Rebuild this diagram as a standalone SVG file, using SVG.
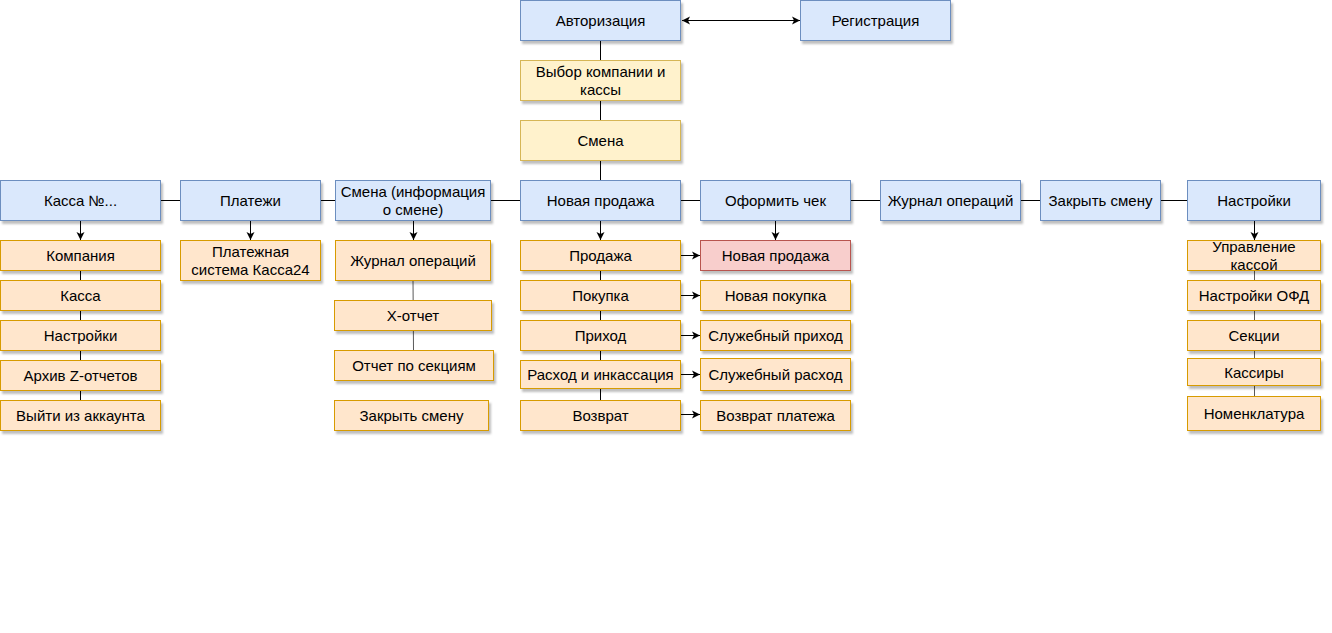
<svg xmlns="http://www.w3.org/2000/svg" width="1332" height="633" viewBox="0 0 1332 633">
<defs>
<filter id="sh" x="-10%" y="-20%" width="130%" height="160%">
<feDropShadow dx="2" dy="3" stdDeviation="1.2" flood-color="#000" flood-opacity="0.25"/>
</filter>
<marker id="ah" markerWidth="9" markerHeight="9" refX="8" refY="4.5" orient="auto" markerUnits="userSpaceOnUse">
<path d="M0,0.5 L8,4.5 L0,8.5 L2,4.5 Z" fill="#000"/>
</marker>
<marker id="ahs" markerWidth="9" markerHeight="9" refX="8" refY="4.5" orient="auto-start-reverse" markerUnits="userSpaceOnUse">
<path d="M0,0.5 L8,4.5 L0,8.5 L2,4.5 Z" fill="#000"/>
</marker>
</defs>
<style>
.b{fill:#dae8fc;stroke:#6c8ebf;stroke-width:1}
.y{fill:#fff2cc;stroke:#d6b656;stroke-width:1}
.o{fill:#ffe6cc;stroke:#d79b00;stroke-width:1}
.r{fill:#f8cecc;stroke:#b85450;stroke-width:1}
rect{filter:url(#sh)}
text{font-family:"Liberation Sans",Arial,sans-serif;font-size:15px;fill:#000;text-anchor:middle;dominant-baseline:central}
.l{stroke:#000;stroke-width:1;fill:none}
.g{stroke:#5a5a5a;stroke-width:1;fill:none}
.a{stroke:#000;stroke-width:1;fill:none;marker-end:url(#ah)}
</style>
<rect width="1332" height="633" fill="#fff" style="filter:none"/>
<g id="connectors">
<line class="l" x1="600.5" y1="40" x2="600.5" y2="180"/>
<line class="l" x1="160" y1="200.5" x2="1187" y2="200.5"/>
<line x1="682" y1="20.5" x2="800" y2="20.5" stroke="#000" stroke-width="1" marker-start="url(#ahs)" marker-end="url(#ahs)"/>
<line class="a" x1="80.5" y1="220" x2="80.5" y2="240"/>
<line class="l" x1="80.5" y1="270" x2="80.5" y2="400"/>
<line class="a" x1="250.5" y1="220" x2="250.5" y2="240"/>
<line class="a" x1="413.5" y1="220" x2="413.5" y2="240"/>
<line class="g" x1="413" y1="280" x2="413.5" y2="350"/>
<line class="a" x1="600.5" y1="220" x2="600.5" y2="240"/>
<line class="l" x1="600.5" y1="270" x2="600.5" y2="400"/>
<line class="a" x1="775.5" y1="220" x2="775.5" y2="240"/>
<line class="a" x1="1254.5" y1="220" x2="1254.5" y2="240"/>
<line class="g" x1="1254.5" y1="270" x2="1254.5" y2="396"/>
<line class="a" x1="681" y1="255.5" x2="700" y2="255.5"/>
<line class="a" x1="681" y1="295.5" x2="700" y2="295.5"/>
<line class="a" x1="681" y1="335.5" x2="700" y2="335.5"/>
<line class="a" x1="681" y1="374.5" x2="700" y2="374.5"/>
<line class="a" x1="681" y1="414.5" x2="700" y2="414.5"/>
</g>
<g id="n-avtorizaciya"><rect class="b" x="520.5" y="0.5" width="160" height="40"/><text x="600.5" y="20.5">Авторизация</text></g>
<g id="n-registraciya"><rect class="b" x="800.5" y="0.5" width="150" height="40"/><text x="875.5" y="20.5">Регистрация</text></g>
<g id="n-vybor"><rect class="y" x="520.5" y="60.5" width="160" height="40"/><text x="600.5" y="71.5">Выбор компании и</text><text x="600.5" y="89.5">кассы</text></g>
<g id="n-smena"><rect class="y" x="520.5" y="120.5" width="160" height="40"/><text x="600.5" y="140.5">Смена</text></g>

<g id="n-kassa-no"><rect class="b" x="0.5" y="180.5" width="160" height="40"/><text x="80.5" y="200.5">Касса №...</text></g>
<g id="n-platezhi"><rect class="b" x="180.5" y="180.5" width="140" height="40"/><text x="250.5" y="200.5">Платежи</text></g>
<g id="n-smena-info"><rect class="b" x="335.5" y="180.5" width="155" height="40"/><text x="413" y="191.5">Смена (информация</text><text x="413" y="209.5">о смене)</text></g>
<g id="n-novaya-prodazha"><rect class="b" x="520.5" y="180.5" width="160" height="40"/><text x="600.5" y="200.5">Новая продажа</text></g>
<g id="n-oformit-chek"><rect class="b" x="700.5" y="180.5" width="150" height="40"/><text x="775.5" y="200.5">Оформить чек</text></g>
<g id="n-zhurnal-top"><rect class="b" x="880.5" y="180.5" width="140" height="40"/><text x="950.5" y="200.5">Журнал операций</text></g>
<g id="n-zakryt-top"><rect class="b" x="1040.5" y="180.5" width="120" height="40"/><text x="1100.5" y="200.5">Закрыть смену</text></g>
<g id="n-nastroyki-top"><rect class="b" x="1187.5" y="180.5" width="133" height="40"/><text x="1254" y="200.5">Настройки</text></g>

<g id="n-kompaniya"><rect class="o" x="0.5" y="240.5" width="160" height="30"/><text x="80.5" y="255.5">Компания</text></g>
<g id="n-kassa"><rect class="o" x="0.5" y="280.5" width="160" height="30"/><text x="80.5" y="295.5">Касса</text></g>
<g id="n-nastroyki"><rect class="o" x="0.5" y="320.5" width="160" height="30"/><text x="80.5" y="335.5">Настройки</text></g>
<g id="n-arhiv"><rect class="o" x="0.5" y="360.5" width="160" height="30"/><text x="80.5" y="375.5">Архив Z-отчетов</text></g>
<g id="n-vyiti"><rect class="o" x="0.5" y="400.5" width="160" height="30"/><text x="80.5" y="415.5">Выйти из аккаунта</text></g>

<g id="n-platezhnaya"><rect class="o" x="180.5" y="240.5" width="140" height="40"/><text x="250.5" y="251.5">Платежная</text><text x="250.5" y="269.5">система Касса24</text></g>

<g id="n-zhurnal"><rect class="o" x="335.5" y="240.5" width="155" height="40"/><text x="413" y="260.5">Журнал операций</text></g>
<g id="n-x-otchet"><rect class="o" x="334.5" y="300.5" width="157" height="30"/><text x="413" y="315.5">X-отчет</text></g>
<g id="n-otchet-sekcii"><rect class="o" x="334.5" y="350.5" width="159" height="30"/><text x="414" y="365.5">Отчет по секциям</text></g>
<g id="n-zakryt"><rect class="o" x="334.5" y="400.5" width="154" height="30"/><text x="411.5" y="415.5">Закрыть смену</text></g>

<g id="n-prodazha"><rect class="o" x="520.5" y="240.5" width="160" height="30"/><text x="600.5" y="255.5">Продажа</text></g>
<g id="n-pokupka"><rect class="o" x="520.5" y="280.5" width="160" height="30"/><text x="600.5" y="295.5">Покупка</text></g>
<g id="n-prihod"><rect class="o" x="520.5" y="320.5" width="160" height="30"/><text x="600.5" y="335.5">Приход</text></g>
<g id="n-rashod"><rect class="o" x="520.5" y="360.5" width="160" height="28"/><text x="600.5" y="374.5">Расход и инкассация</text></g>
<g id="n-vozvrat"><rect class="o" x="520.5" y="400.5" width="160" height="30"/><text x="600.5" y="415.5">Возврат</text></g>

<g id="n-novaya-prodazha2"><rect class="r" x="700.5" y="240.5" width="150" height="30"/><text x="775.5" y="255.5">Новая продажа</text></g>
<g id="n-novaya-pokupka"><rect class="o" x="700.5" y="280.5" width="150" height="30"/><text x="775.5" y="295.5">Новая покупка</text></g>
<g id="n-sluzh-prihod"><rect class="o" x="700.5" y="320.5" width="150" height="30"/><text x="775.5" y="335.5">Служебный приход</text></g>
<g id="n-sluzh-rashod"><rect class="o" x="700.5" y="358.5" width="150" height="32"/><text x="775.5" y="374.5">Служебный расход</text></g>
<g id="n-vozvrat-platezha"><rect class="o" x="700.5" y="400.5" width="150" height="30"/><text x="775.5" y="415.5">Возврат платежа</text></g>

<g id="n-upravlenie"><rect class="o" x="1187.5" y="240.5" width="133" height="30"/><text x="1254" y="246.5">Управление</text><text x="1254" y="264.5">кассой</text></g>
<g id="n-ofd"><rect class="o" x="1187.5" y="280.5" width="133" height="30"/><text x="1254" y="295.5">Настройки ОФД</text></g>
<g id="n-sekcii"><rect class="o" x="1187.5" y="320.5" width="133" height="30"/><text x="1254" y="335.5">Секции</text></g>
<g id="n-kassiry"><rect class="o" x="1187.5" y="358.5" width="133" height="27"/><text x="1254" y="372.5">Кассиры</text></g>
<g id="n-nomenklatura"><rect class="o" x="1187.5" y="396.5" width="133" height="34"/><text x="1254" y="413.5">Номенклатура</text></g>
</svg>
